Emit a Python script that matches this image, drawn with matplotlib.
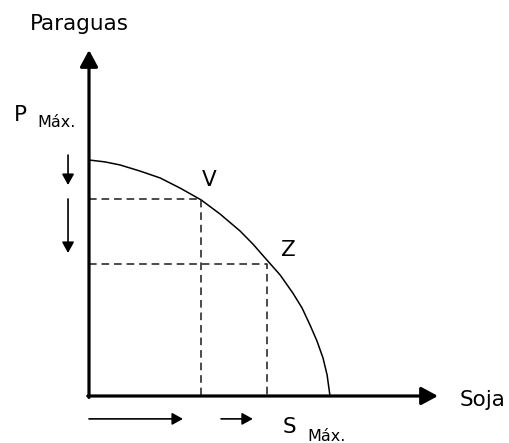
import matplotlib
matplotlib.use("Agg")
import matplotlib.pyplot as plt

# frontera de posibilidades de produccion (maximo = 100)
soja = [0, 6.6, 12.9, 21.2, 29.5, 37.8, 46.5, 54.4, 62.7, 68.0, 73.4,
        79.3, 84.6, 88.4, 91.7, 94.6, 97.1, 98.8, 100]
paraguas = [100, 99.2, 97.9, 95.3, 92.4, 88.1, 83.1, 77.1, 69.9, 64.4, 58.1,
            51.3, 43.6, 37.3, 30.1, 23.3, 16.1, 8.9, 0]

puntos = ["V", "Z"]
punto_soja = [46.5, 73.7]
punto_paraguas = [83.5, 55.9]

# flechas de variacion
flechas_p = [(102.1, 89.4), (83.5, 60.6)]
flechas_s = [(0, 39.0), (54.8, 68.0)]

fig = plt.figure(figsize=(5.10, 4.43), dpi=100)
ax = fig.add_axes([0, 0, 1, 1])
ax.set_xlim(-36.93, 174.69)
ax.set_ylim(-19.92, 167.8)
ax.axis("off")

# ejes con flecha
ejes = dict(arrowstyle="-|>,head_length=10,head_width=5.4", lw=2.3,
            color="black", shrinkA=0, shrinkB=0, mutation_scale=1)
ax.annotate("", xy=(0, 146.6), xytext=(0, -0.6), arrowprops=ejes)
ax.annotate("", xy=(144.8, 0), xytext=(-0.5, 0), arrowprops=ejes)

ax.plot(soja, paraguas, color="black", lw=1.1, solid_capstyle="butt")

for nombre, xs, yp in zip(puntos, punto_soja, punto_paraguas):
    ax.plot([0, xs, xs], [yp, yp, 0], color="#1a1a1a", lw=1.1,
            linestyle=(0, (5, 3.2)))

chica = dict(arrowstyle="-|>,head_length=6.5,head_width=3.6", lw=1.2,
             color="black", shrinkA=0, shrinkB=0, mutation_scale=1)
for y0, y1 in flechas_p:
    ax.annotate("", xy=(-8.7, y1), xytext=(-8.7, y0), arrowprops=chica)
for x0, x1 in flechas_s:
    ax.annotate("", xy=(x1, -9.7), xytext=(x0, -9.7), arrowprops=chica)

fs = 15.5
fs_sub = 11.5
ax.text(-24.5, 155.1, "Paraguas", fontsize=fs, ha="left", va="baseline")
ax.text(153.9, -4.2, "Soja", fontsize=fs, ha="left", va="baseline")
ax.text(-31.1, 116.5, "P", fontsize=fs, ha="left", va="baseline")
ax.text(-21.6, 114.0, "Máx.", fontsize=fs_sub, ha="left", va="baseline")
ax.text(80.5, -15.7, "S", fontsize=fs, ha="left", va="baseline")
ax.text(90.5, -19.1, "Máx.", fontsize=fs_sub, ha="left", va="baseline")
ax.text(49.8, 91.5, "V", fontsize=fs, ha="center", va="center")
ax.text(82.6, 61.9, "Z", fontsize=fs, ha="center", va="center")

fig.savefig("out.png", dpi=100, facecolor="white")
